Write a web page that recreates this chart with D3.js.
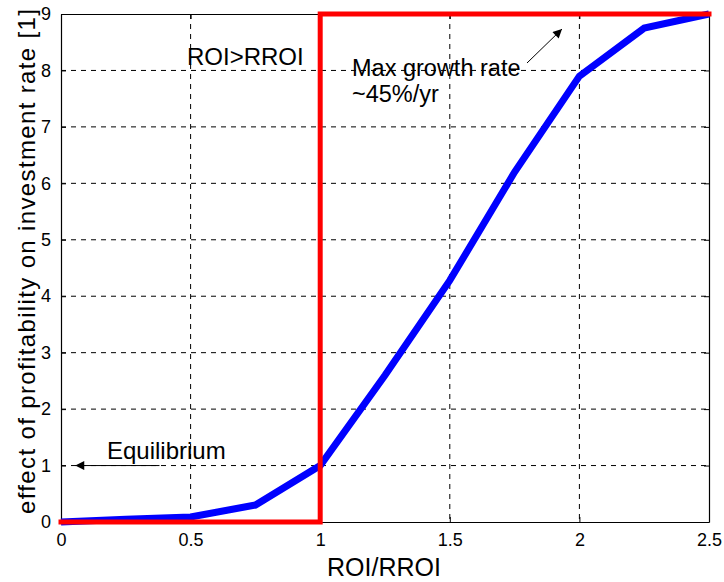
<!DOCTYPE html>
<html>
<head>
<meta charset="utf-8">
<script src="https://cdn.jsdelivr.net/npm/d3@7/dist/d3.min.js"></script>
<style>
  html, body { margin: 0; padding: 0; background: #fff; }
  svg { display: block; font-family: "Liberation Sans", Arial, Helvetica, sans-serif; }
</style>
</head>
<body>
<svg id="chart" width="724" height="582"></svg>
<script>
// ROI/RROI samples and the effect of profitability on investment rate
const roiRatio = [0, 0.25, 0.5, 0.75, 1, 1.25, 1.5, 1.75, 2, 2.25, 2.5];
const effect   = [0, 0.05, 0.09, 0.3, 1.0, 2.6, 4.28, 6.2, 7.9, 8.75, 9.0];

// Step reference: zero below ROI = RROI, maximum above it
const stepX = [0, 1, 1, 2.5];
const stepY = [0, 0, 9, 9];

const xTicks = [0, 0.5, 1, 1.5, 2, 2.5];
const yTicks = [0, 1, 2, 3, 4, 5, 6, 7, 8, 9];

const svg = d3.select("#chart");
const m = { left: 61, right: 709, top: 14, bottom: 522 };

const x = d3.scaleLinear().domain([0, 2.5]).range([m.left, m.right]);
const y = d3.scaleLinear().domain([0, 9]).range([m.bottom, m.top]);

// dashed grid
const grid = svg.append("g").attr("stroke", "#000").attr("stroke-width", 1)
  .attr("stroke-dasharray", "5,5");
xTicks.slice(1, -1).forEach(t => {
  grid.append("line").attr("x1", x(t)).attr("x2", x(t))
    .attr("y1", m.top).attr("y2", m.bottom);
});
yTicks.slice(1, -1).forEach(t => {
  grid.append("line").attr("x1", m.left).attr("x2", m.right)
    .attr("y1", y(t)).attr("y2", y(t));
});

// axes with inward ticks
const xAxis = svg.append("g").attr("transform", `translate(0,${m.bottom})`)
  .call(d3.axisBottom(x).tickValues(xTicks).tickSizeInner(-5).tickSizeOuter(0)
    .tickPadding(11).tickFormat(d3.format("~g")));
const xAxisTop = svg.append("g").attr("transform", `translate(0,${m.top})`)
  .call(d3.axisTop(x).tickValues(xTicks).tickSizeInner(-5).tickSizeOuter(0)
    .tickFormat(""));
const yAxis = svg.append("g").attr("transform", `translate(${m.left},0)`)
  .call(d3.axisLeft(y).tickValues(yTicks).tickSizeInner(-5).tickSizeOuter(0)
    .tickPadding(10).tickFormat(d3.format("d")));
const yAxisRight = svg.append("g").attr("transform", `translate(${m.right},0)`)
  .call(d3.axisRight(y).tickValues(yTicks).tickSizeInner(-5).tickSizeOuter(0)
    .tickFormat(""));

[xAxis, xAxisTop, yAxis, yAxisRight].forEach(g => {
  g.select(".domain").attr("stroke", "#000").attr("stroke-width", 1.2);
  g.selectAll(".tick line").attr("stroke", "#000");
  g.selectAll(".tick text").attr("fill", "#000").attr("font-size", 18)
    .attr("font-family", "Liberation Sans, Arial, sans-serif");
});

// blue response curve
const line = d3.line().x((d, i) => x(roiRatio[i])).y(d => y(d));
svg.append("path").datum(effect).attr("d", line)
  .attr("fill", "none").attr("stroke", "#0000ff").attr("stroke-width", 7)
  .attr("stroke-linejoin", "miter");

// red step
const stepLine = d3.line().x((d, i) => x(stepX[i])).y(d => y(d));
svg.append("path").datum(stepY).attr("d", stepLine)
  .attr("fill", "none").attr("stroke", "#ff0000").attr("stroke-width", 5)
  .attr("stroke-linejoin", "miter").attr("stroke-linecap", "square");

// annotations
const defs = svg.append("defs");
defs.append("marker").attr("id", "head").attr("viewBox", "0 0 10 10")
  .attr("refX", 10).attr("refY", 5).attr("markerWidth", 14).attr("markerHeight", 9)
  .attr("markerUnits", "userSpaceOnUse").attr("orient", "auto")
  .append("path").attr("d", "M0,0 L10,5 L0,10 Z").attr("fill", "#000");

svg.append("text").attr("x", 187).attr("y", 65).attr("font-size", 24).text("ROI>RROI");
svg.append("text").attr("x", 352).attr("y", 76).attr("font-size", 23.5).text("Max growth rate");
svg.append("text").attr("x", 352).attr("y", 102).attr("font-size", 23.5).text("~45%/yr");
svg.append("line").attr("x1", 527).attr("y1", 63).attr("x2", 562).attr("y2", 29)
  .attr("stroke", "#000").attr("stroke-width", 1).attr("marker-end", "url(#head)");

svg.append("text").attr("x", 107).attr("y", 459).attr("font-size", 24).text("Equilibrium");
svg.append("line").attr("x1", x(0.38)).attr("y1", y(1)).attr("x2", x(0.055)).attr("y2", y(1))
  .attr("stroke", "#000").attr("stroke-width", 1).attr("marker-end", "url(#head)");

// axis titles
svg.append("text").attr("x", 384).attr("y", 576)
  .attr("text-anchor", "middle").attr("font-size", 25).text("ROI/RROI");
svg.append("text").attr("transform", `translate(35,${(8 + 515) / 2}) rotate(-90)`)
  .attr("text-anchor", "middle").attr("font-size", 24)
  .attr("textLength", 505).attr("lengthAdjust", "spacing")
  .text("effect of profitability on investment rate [1]");
</script>
</body>
</html>
